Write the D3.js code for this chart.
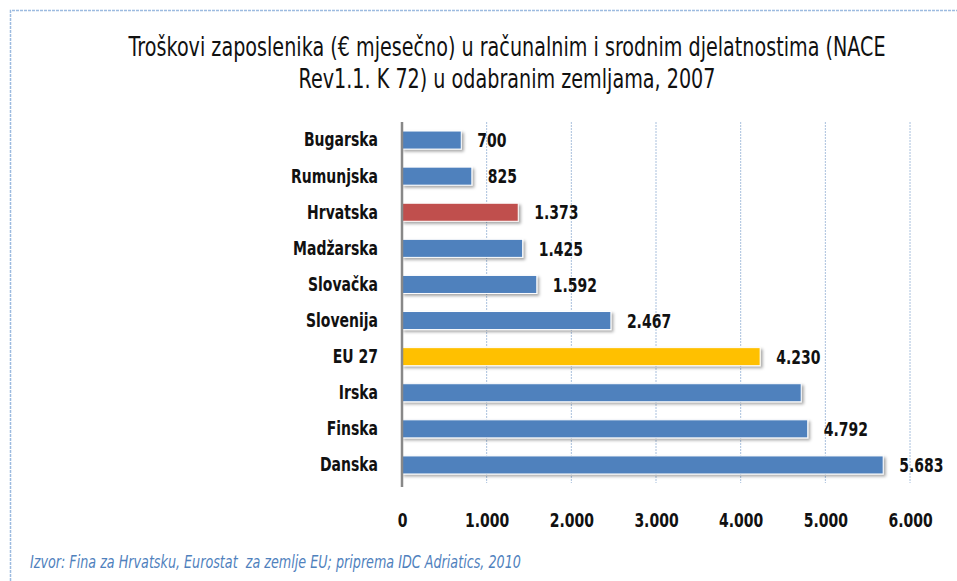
<!DOCTYPE html>
<html>
<head>
<meta charset="utf-8">
<style>
    body { margin: 0; background: white; }
    svg { display: block; font-family: 'DejaVu Sans', sans-serif; }
    .title { font-size: 27px; fill: #111; }
    .cat, .val { font-size: 20px; fill: #111; font-weight: bold; }
    .source { font-size: 17px; fill: #4f81bd; font-style: italic; white-space: pre; }
</style>
</head>
<body>
<svg width="957" height="581"></svg>

<script src="https://d3js.org/d3.v7.min.js"></script>
<script>
    // data
    let countries = ["Bugarska", "Rumunjska", "Hrvatska", "Madžarska", "Slovačka", "Slovenija", "EU 27", "Irska", "Finska", "Danska"];
    let costs = [700, 825, 1373, 1425, 1592, 2467, 4230, 4715, 4792, 5683];
    let costLabels = ["700", "825", "1.373", "1.425", "1.592", "2.467", "4.230", "", "4.792", "5.683"];
    let barColors = ["#4f81bd", "#4f81bd", "#c0504d", "#4f81bd", "#4f81bd", "#4f81bd", "#ffc000", "#4f81bd", "#4f81bd", "#4f81bd"];
    let tickValues = [0, 1000, 2000, 3000, 4000, 5000, 6000];
    let tickLabels = ["0", "1.000", "2.000", "3.000", "4.000", "5.000", "6.000"];
    let titleLines = ["Troškovi zaposlenika (€ mjesečno) u računalnim i srodnim djelatnostima (NACE", "Rev1.1. K 72) u odabranim zemljama, 2007"];
    let sourceText = "Izvor: Fina za Hrvatsku, Eurostat  za zemlje EU; priprema IDC Adriatics, 2010";

    let margin = {top: 122, left: 402, right: 47, bottom: 98};
    let w = 957, h = 581;
    let narrow = 0.70; // fake a condensed face by squeezing text horizontally

    let svg = d3.select("svg");

    // outer dashed frame (only top and left visible)
    svg.append("path")
        .attr("d", "M10.5,581 V10.5 H957")
        .attr("fill", "none")
        .attr("stroke", "#9dbbe0")
        .attr("stroke-width", 1.5)
        .attr("stroke-dasharray", "3,1");

    // shadow filter for bars
    let defs = svg.append("defs");
    let f = defs.append("filter").attr("id", "shadow").attr("x", "-5%").attr("y", "-30%").attr("width", "115%").attr("height", "180%");
    f.append("feDropShadow").attr("dx", 2).attr("dy", 2).attr("stdDeviation", 1.5).attr("flood-color", "#000").attr("flood-opacity", 0.35);

    let x = d3.scaleLinear()
        .domain([0, 6000])
        .range([margin.left, margin.left + 6000 * 0.08467]);

    let y = d3.scaleBand()
        .domain(countries)
        .range([margin.top, h - margin.bottom])
        .paddingInner(0.5)
        .paddingOuter(0.25);

    // title
    svg.append("text")
        .attr("class", "title")
        .attr("text-anchor", "middle")
        .attr("transform", "translate(507,0) scale(0.71,1)")
        .selectAll("tspan")
        .data(titleLines)
        .join("tspan")
        .attr("x", 0)
        .attr("y", (d, i) => 56 + i * 32)
        .text(d => d);

    // gridlines
    svg.append("g")
        .selectAll("line")
        .data(tickValues.slice(1))
        .join("line")
        .attr("x1", d => x(d)).attr("x2", d => x(d))
        .attr("y1", margin.top).attr("y2", h - margin.bottom)
        .attr("stroke", "#a9c0dd")
        .attr("stroke-width", 1)
        .attr("stroke-dasharray", "2,1");

    // bars
    svg.append("g")
        .selectAll("rect")
        .data(costs)
        .join("rect")
        .attr("x", x(0))
        .attr("y", (d, i) => y(countries[i]))
        .attr("width", d => x(d) - x(0))
        .attr("height", y.bandwidth())
        .attr("fill", (d, i) => barColors[i])
        .attr("stroke", "white")
        .attr("stroke-width", 1)
        .attr("filter", "url(#shadow)");

    // value labels
    svg.append("g")
        .selectAll("text")
        .data(costs)
        .join("text")
        .attr("class", "val")
        .attr("transform", (d, i) => "translate(" + (x(d) + 16) + "," + (y(countries[i]) + y.bandwidth() / 2) + ") scale(" + narrow + ",1)")
        .attr("dy", "0.36em")
        .text((d, i) => costLabels[i]);

    // y axis (category labels)
    let yAxis = svg.append("g")
        .attr("transform", "translate(" + margin.left + ",0)")
        .call(d3.axisLeft(y).tickSize(0).tickPadding(24));
    yAxis.select(".domain").attr("stroke", "#888").attr("stroke-width", 2.5).attr("d", "M0," + margin.top + "V" + (h - margin.bottom + 4));
    yAxis.attr("font-family", null).attr("font-size", null);
    yAxis.selectAll("text")
        .attr("class", "cat")
        .attr("x", -24 / narrow)
        .attr("transform", "scale(" + narrow + ",1)");

    // x axis (tick labels only)
    let xAxis = svg.append("g")
        .attr("transform", "translate(0," + (h - margin.bottom) + ")")
        .call(d3.axisBottom(x).tickValues(tickValues).tickFormat((d, i) => tickLabels[i]).tickSize(0).tickPadding(30));
    xAxis.select(".domain").remove();
    xAxis.attr("font-family", null).attr("font-size", null);
    xAxis.selectAll("text")
        .attr("class", "val")
        .attr("transform", "scale(" + narrow + ",1)");

    // source
    svg.append("text")
        .attr("class", "source")
        .attr("transform", "translate(30,568) scale(0.75,1)")
        .text(sourceText);
</script>
</body>
</html>
